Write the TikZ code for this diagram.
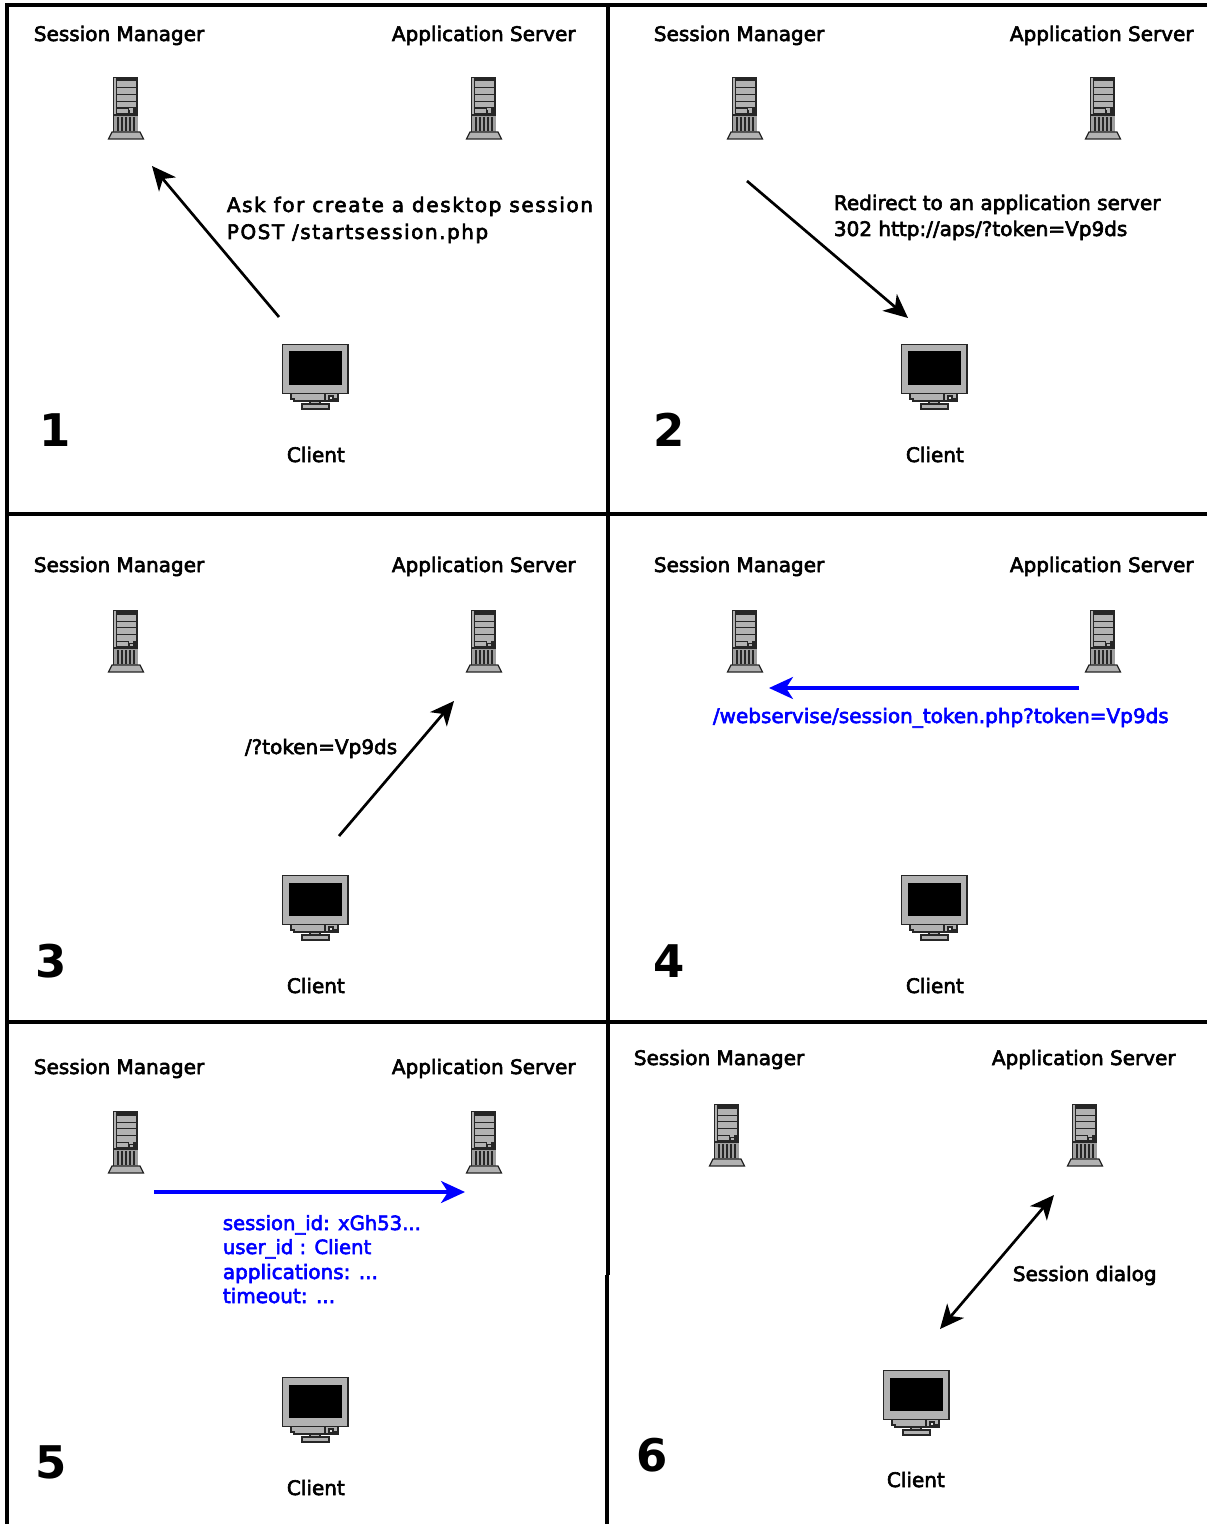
\documentclass[tikz,border=0pt]{standalone}
\usepackage{fontspec}
\setmainfont[FakeBold=3]{DejaVu Sans}
\newfontfamily\numfont{DejaVu Sans Bold}
\usetikzlibrary{arrows.meta}
\definecolor{gfill}{gray}{0.70}
\definecolor{gdark}{gray}{0.15}
\definecolor{ablue}{RGB}{0,0,255}
\tikzset{
  x=0.5pt,y=-0.5pt,
  frameline/.style={line width=2pt,black},
  lab/.style={anchor=base west,inner sep=0pt,font=\fontsize{10}{12}\selectfont,text=black},
  bluelab/.style={lab,text=ablue},
  bluetight/.style={bluelab,font=\fontsize{9.8}{12}\selectfont},
  spaced/.style={lab,font=\fontsize{10}{12}\selectfont\addfontfeature{LetterSpace=#1}},
  num/.style={anchor=base west,inner sep=0pt,font=\fontsize{22.5}{26}\numfont},
  flow/.style={line width=1.35pt,black,-{Stealth[length=12pt,width=11pt,inset=3.5pt]}},
  flowblue/.style={flow,ablue,line width=1.6pt},
  both/.style={flow,{Stealth[length=12pt,width=11pt,inset=3.5pt]}-{Stealth[length=12pt,width=11pt,inset=3.5pt]}},
  dev/.style={draw=gdark,line width=0.6pt,fill=gfill},
  server/.pic={
    \fill[gdark] (-13.5,-31) rectangle (12,25);
    \fill[gray!60] (-12.5,-30) rectangle (-10.5,25);
    \fill[gfill] (-9.5,-26.5) rectangle (9.5,-20.5);
    \fill[gfill] (-9.5,-19.5) rectangle (9.5,-14);
    \fill[gfill] (-9.5,-13) rectangle (9.5,-7);
    \fill[gfill] (-9.5,-6) rectangle (9.5,-0.5);
    \fill[gfill] (-9.5,1) rectangle (1.5,5);
    \fill[gfill] (3,-0) rectangle (7,1.6);
    \fill[gfill] (4,2.5) rectangle (7,5);
    \fill[gray!75] (-12,7) rectangle (12,24);
    \foreach \gx in {-8,-4,0,4,8}{\draw[gdark,line width=0.9pt] (\gx,9) -- (\gx,23);}
    \draw[gdark,line width=0.6pt] (-12,7) -- (12,7);
    \draw[dev] (-14,24) -- (14,24) -- (17.5,31) -- (-17.5,31) -- cycle;
    \path[pic actions] (-18,-31) rectangle (18,31);
  },
  client/.pic={
    \draw[dev] (-24,18) -- (23,18) -- (23,24) -- (20,24) -- (20,26) -- (-21,26) -- (-21,24) -- (-24,24) -- cycle;
    \draw[dev] (-5,26) rectangle (5,29);
    \draw[dev] (-13,29) rectangle (14,34);
    \draw[dev,fill=gfill] (-32.5,-30.5) rectangle (33,18.5);
    \fill[black] (-26,-23.5) rectangle (26.5,10);
    \draw[gdark,line width=0.6pt] (10,18.5) rectangle (23,26);
    \draw[gdark,line width=0.6pt,fill=white!60!gfill] (14,21) rectangle (18,25);
    \path[pic actions] (-33,-31) rectangle (33.5,34);
  }
}
\begin{document}
\begin{tikzpicture}
\useasboundingbox (0,0) rectangle (1207,1524);
% frame
\coordinate (fTL) at (7,5); \coordinate (fTR) at (1207,5);
\coordinate (fBL) at (7,1524);
\coordinate (fM0) at (608,5); \coordinate (fM1) at (608,1275); \coordinate (fM2) at (606.5,1275); \coordinate (fM3) at (606.5,1524);
\coordinate (h1L) at (7,513.5); \coordinate (h1R) at (1207,513.5);
\coordinate (h2L) at (7,1022); \coordinate (h2R) at (1207,1022);
\draw[frameline] (fTR) -- (fTL) -- (fBL);
\draw[frameline] (fM0) -- (fM1); \draw[frameline] (fM2) -- (fM3);
\draw[frameline] (h1L) -- (h1R); \draw[frameline] (h2L) -- (h2R);
% panel 1
\pic (sa) at (126,108) {server}; \pic (aa) at (484,108) {server}; \pic (ca) at (315,375) {client};
\node[lab] (sla) at (33.5,41) {Session Manager};
\node[lab] (ala) at (391.5,41) {Application Server};
\node[lab] (cla) at (286.5,462) {Client};
\node[num] (na) at (39,446) {1};
\coordinate (a1s) at (279,317); \coordinate (a1e) at (152,166);
\draw[flow] (a1s) -- (a1e);
\node[spaced=8] (ta1) at (226.5,212) {Ask for create a desktop session};
\node[spaced=7.6] (ta2) at (226.5,239) {POST /startsession.php};
% panel 2
\pic (sb) at (745,108) {server}; \pic (ab) at (1103,108) {server}; \pic (cb) at (934,375) {client};
\node[lab] (slb) at (653.5,41) {Session Manager};
\node[lab] (alb) at (1009.5,41) {Application Server};
\node[lab] (clb) at (905.5,462) {Client};
\node[num] (nb) at (653,446) {2};
\coordinate (a2s) at (747,181); \coordinate (a2e) at (908,318);
\draw[flow] (a2s) -- (a2e);
\node[lab] (tb1) at (833.5,210) {Redirect to an application server};
\node[lab] (tb2) at (833.5,236) {302 http://aps/?token=Vp9ds};
% panel 3
\pic (sc) at (126,641) {server}; \pic (ac) at (484,641) {server}; \pic (cc) at (315,906) {client};
\node[lab] (slc) at (33.5,572) {Session Manager};
\node[lab] (alc) at (391.5,572) {Application Server};
\node[lab] (clc) at (286.5,993) {Client};
\node[num] (nc) at (35,977) {3};
\coordinate (a3s) at (339,836); \coordinate (a3e) at (454,701);
\draw[flow] (a3s) -- (a3e);
\node[lab] (tc1) at (244.5,754) {/?token=Vp9ds};
% panel 4
\pic (sd) at (745,641) {server}; \pic (ad) at (1103,641) {server}; \pic (cd) at (934,906) {client};
\node[lab] (sld) at (653.5,572) {Session Manager};
\node[lab] (ald) at (1009.5,572) {Application Server};
\node[lab] (cld) at (905.5,993) {Client};
\node[num] (nd) at (653,977) {4};
\coordinate (a4s) at (1079,688); \coordinate (a4e) at (769,688);
\draw[flowblue] (a4s) -- (a4e);
\node[bluelab] (td1) at (712.5,723) {/webservise/session\_token.php?token=Vp9ds};
% panel 5
\pic (se) at (126,1142) {server}; \pic (ae) at (484,1142) {server}; \pic (ce) at (315,1408) {client};
\node[lab] (sle) at (33.5,1074) {Session Manager};
\node[lab] (ale) at (391.5,1074) {Application Server};
\node[lab] (cle) at (286.5,1495) {Client};
\node[num] (ne) at (35,1478) {5};
\coordinate (a5s) at (154,1192); \coordinate (a5e) at (465,1192);
\draw[flowblue] (a5s) -- (a5e);
\node[bluetight] (te1) at (222.5,1230) {session\_id: xGh53...};
\node[bluetight] (te2) at (222.5,1254) {user\_id : Client};
\node[bluelab] (te3) at (222.5,1279) {applications: ...};
\node[bluelab] (te4) at (222.5,1303) {timeout: ...};
% panel 6
\pic (sf) at (727,1135) {server}; \pic (af) at (1085,1135) {server}; \pic (cf) at (916,1401) {client};
\node[lab] (slf) at (633.5,1065) {Session Manager};
\node[lab] (alf) at (991.5,1065) {Application Server};
\node[lab] (clf) at (886.5,1487) {Client};
\node[num] (nf) at (636,1471.5) {6};
\coordinate (a6s) at (940,1329); \coordinate (a6e) at (1054,1195);
\draw[both] (a6s) -- (a6e);
\node[lab] (tf1) at (1012.5,1281) {Session dialog};
\end{tikzpicture}
\end{document}
